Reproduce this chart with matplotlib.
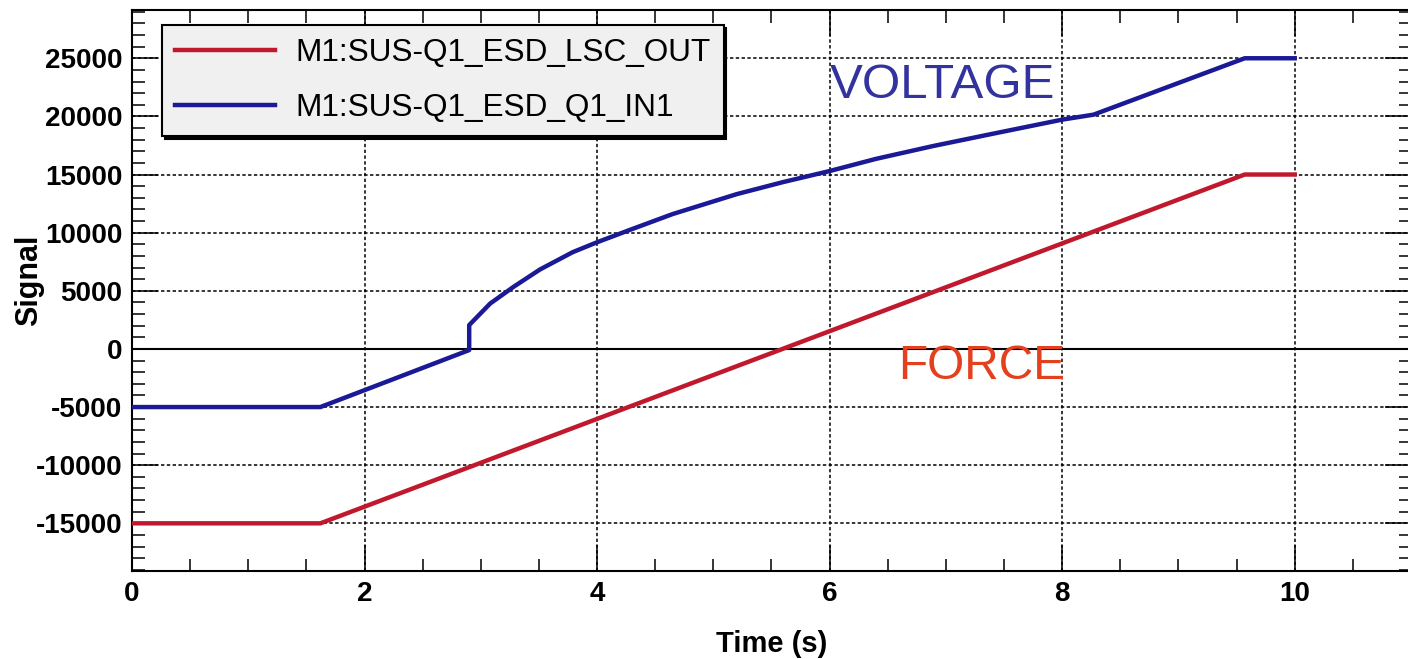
import numpy as np
import matplotlib.pyplot as plt
from matplotlib.ticker import MultipleLocator

# channel names as they appear in the legend
force_name = "M1:SUS-Q1_ESD_LSC_OUT"
voltage_name = "M1:SUS-Q1_ESD_Q1_IN1"

# force request (LSC output) vs time
force_t = [0.0, 1.62, 9.57, 10.0]
force_v = [-15000, -15000, 15000, 15000]

# ESD drive voltage vs time (jump at the bias switch, then sqrt-like rise)
volt_t = [0.0, 1.62, 2.9, 2.9, 3.08, 3.28, 3.51, 3.79, 4.0, 4.28, 4.65, 5.2,
          5.6, 6.0, 6.4, 6.89, 7.4, 8.0, 8.27, 9.57, 10.0]
volt_v = [-5000, -5000, -100, 2050, 3900, 5330, 6840, 8320, 9175, 10230, 11600,
          13310, 14350, 15300, 16350, 17450, 18500, 19720, 20150, 25000, 25000]


def visualize():
	plt.rcParams['font.family'] = ['Liberation Sans', 'DejaVu Sans']
	plt.rcParams['axes.unicode_minus'] = False

	fig = plt.figure(figsize=(14.08, 6.59), dpi=100)
	ax = fig.add_axes([132 / 1408, 88 / 659, 1279 / 1408, 561 / 659])

	ax.plot(force_t, force_v, color='#c0182c', lw=3.2, label=force_name, zorder=3)
	ax.plot(volt_t, volt_v, color='#1a1a96', lw=3.2, label=voltage_name, zorder=3)

	ax.set_xlim(0, 11)
	ax.set_ylim(-19100, 29150)

	ax.xaxis.set_major_locator(MultipleLocator(2))
	ax.xaxis.set_minor_locator(MultipleLocator(0.5))
	ax.yaxis.set_major_locator(MultipleLocator(5000))
	ax.yaxis.set_minor_locator(MultipleLocator(1000))

	ax.tick_params(which='both', direction='in', top=True, right=True, width=1.1, colors='black')
	ax.tick_params(which='major', length=19, pad=7, labelsize=20)
	ax.tick_params(which='minor', length=9)
	for lab in ax.get_xticklabels() + ax.get_yticklabels():
		lab.set_fontweight('bold')

	for sp in ax.spines.values():
		sp.set_linewidth(1.5)

	ax.grid(which='major', color='black', lw=1.1, linestyle=(0, (2.2, 1.6)))
	ax.axhline(0, color='black', lw=1.5, zorder=2)

	ax.set_xlabel('Time (s)', fontsize=21, fontweight='bold', va='top')
	ax.xaxis.set_label_coords(0.5, -0.105)
	ax.set_ylabel('Signal', fontsize=22, fontweight='bold')
	ax.yaxis.set_label_coords(-0.069, 0.519)

	ax.text(6.0, 21600, 'VOLTAGE', color='#3333a0', fontsize=35.5)
	ax.text(6.59, -2580, 'FORCE', color='#e4401e', fontsize=34.5)

	leg = ax.legend(loc='upper left', bbox_to_anchor=(162 / 1408, 1 - 25 / 659),
					bbox_transform=fig.transFigure, borderaxespad=0, fontsize=22.7,
					handlelength=3.17, handletextpad=0.63, labelspacing=0.78,
					borderpad=0.42, fancybox=False, framealpha=1,
					facecolor='#f0f0f0', edgecolor='black',
					shadow={'color': 'black', 'alpha': 1})
	leg.get_frame().set_linewidth(1.5)
	for line in leg.get_lines():
		line.set_linewidth(3.2)

	fig.savefig('out.png', dpi=100)


def main():
	visualize()


if __name__ == '__main__':
	main()
